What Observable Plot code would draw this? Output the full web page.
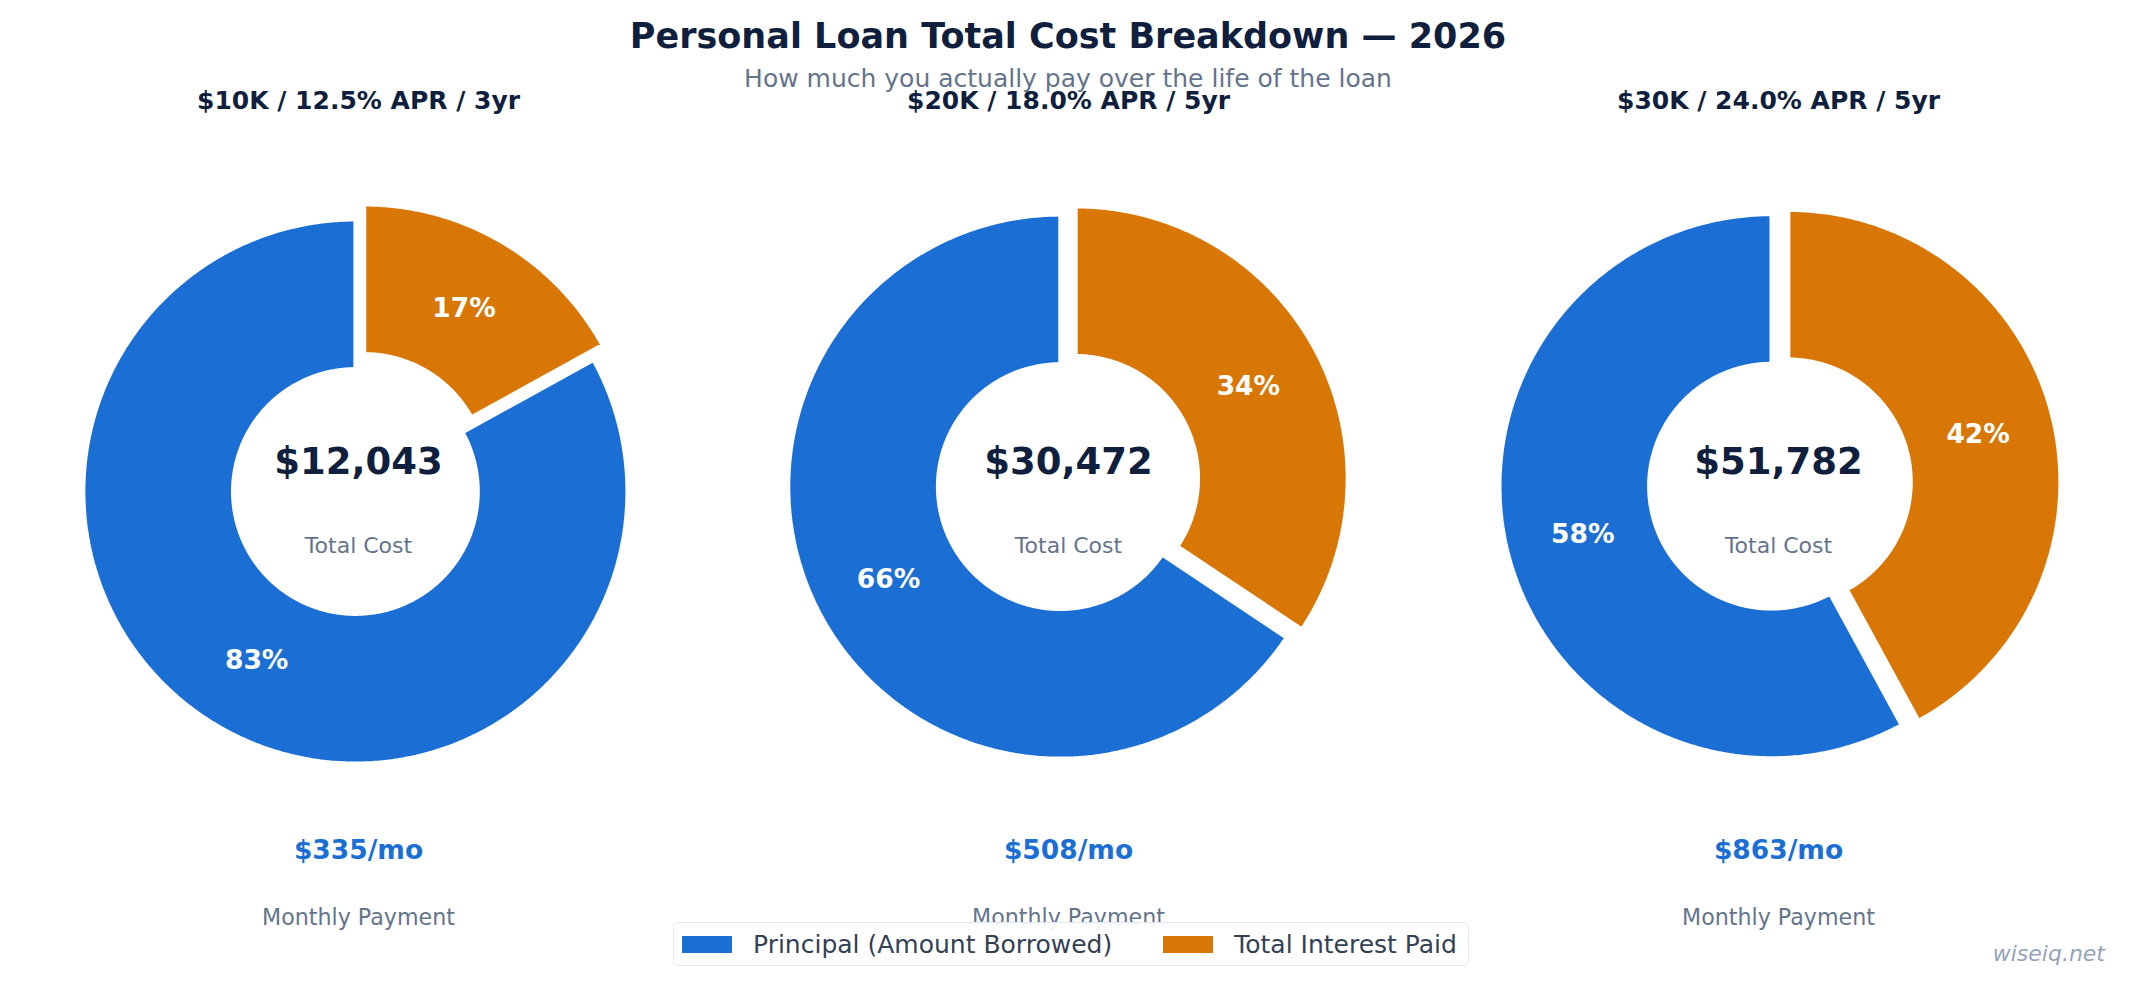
<!DOCTYPE html>
<html>
<head>
<meta charset="utf-8">
<script src="https://cdn.jsdelivr.net/npm/d3@7"></script>
<script src="https://cdn.jsdelivr.net/npm/@observablehq/plot@0.6"></script>
<style>
  body { margin: 0; background: #fff; font-family: "DejaVu Sans", sans-serif; }
  #fig { position: relative; width: 2136px; height: 986px; overflow: hidden; background: #fff; }
  .abs { position: absolute; }
  #title { left: 0; width: 2136px; top: 19px; text-align: center; font-size: 35px; line-height: 1; font-weight: bold; color: #0f1f3d; }
  #subtitle { left: 0; width: 2136px; top: 66px; text-align: center; font-size: 25px; line-height: 1; color: #64748b; }
  #legendbox { left: 673px; top: 922px; width: 796px; height: 44px; box-sizing: border-box; border: 1.5px solid #e2e8f0; border-radius: 5px; background: rgba(255,255,255,0.92); display: flex; align-items: center; padding-left: 8px; }
  .lg-swatches { font-size: 25px !important; font-family: "DejaVu Sans", sans-serif !important; color: #334155 !important; margin: 0 !important; min-height: 0 !important; }
  .lg-swatch { margin-right: 51px !important; }
  .lg-swatch:last-child { margin-right: 0 !important; }
  .lg-swatch > svg { margin-right: 21px !important; }
  #watermark { right: 31px; top: 943px; font-size: 22px; line-height: 1; font-style: italic; color: #94a3b8; }
</style>
</head>
<body>
<div id="fig">
  <div id="title" class="abs">Personal Loan Total Cost Breakdown — 2026</div>
  <div id="subtitle" class="abs">How much you actually pay over the life of the loan</div>
</div>
<script>
// ---------- data ----------
const categories = ["Principal (Amount Borrowed)", "Total Interest Paid"];
const loanLabels = ["$10K / 12.5% APR / 3yr", "$20K / 18.0% APR / 5yr", "$30K / 24.0% APR / 5yr"];
const principal = [10000, 20000, 30000];
const interest = [2043, 10472, 21782];
const totalCost = [12043, 30472, 51782];
const monthlyPayment = [335, 508, 863];
const colors = ["#1b6fd4", "#d97706"];

// ---------- layout ----------
const W = 712, H = 986, R = 272, INNER = 0.45, EXPLODE = 0.064, PCTDIST = 0.718;
const panels = [
  {left: 0,    cx: 355.4,  cy: 491.5, ax: 358},
  {left: 712,  cx: 348.3,  cy: 486.6, ax: 356},
  {left: 1424, cx: 347.5,  cy: 486.2, ax: 354}
];
const navy = "#0f1f3d", grey = "#64748b";
const fig = document.getElementById("fig");

panels.forEach((p, i) => {
  const ux = px => (px - p.cx) / R;
  const uy = py => (p.cy - py) / R;
  const total = principal[i] + interest[i];
  const slices = [
    {part: categories[1], value: interest[i]},
    {part: categories[0], value: principal[i]}
  ];
  const arcs = d3.pie().sort(null).value(d => d.value)(slices);
  const pts = [], labels = [];
  arcs.forEach(a => {
    const mid = (a.startAngle + a.endAngle) / 2;
    const off = a.data.part === categories[1] ? EXPLODE : 0;
    const ox = off * Math.sin(mid), oy = off * Math.cos(mid);
    const n = Math.max(2, Math.ceil((a.endAngle - a.startAngle) / (Math.PI / 360)));
    for (let k = 0; k <= n; k++) {
      const t = a.startAngle + (a.endAngle - a.startAngle) * k / n;
      pts.push({part: a.data.part,
        xi: ox + INNER * Math.sin(t), yi: oy + INNER * Math.cos(t),
        xo: ox + Math.sin(t), yo: oy + Math.cos(t)});
    }
    labels.push({x: ox + PCTDIST * Math.sin(mid), y: oy + PCTDIST * Math.cos(mid),
      text: Math.round(a.value / total * 100) + "%"});
  });

  const chart = Plot.plot({
    width: W, height: H, margin: 0,
    x: {type: "linear", domain: [-1, 1], range: [p.cx - R, p.cx + R], axis: null},
    y: {type: "linear", domain: [-1, 1], range: [p.cy + R, p.cy - R], axis: null},
    color: {domain: categories, range: colors},
    style: {fontFamily: "DejaVu Sans, sans-serif", background: "transparent", overflow: "visible"},
    marks: [
      Plot.area(pts, {x1: "xi", y1: "yi", x2: "xo", y2: "yo", z: "part", fill: "part",
        stroke: "white", strokeWidth: 4, strokeLinejoin: "miter"}),
      Plot.text(labels, {x: "x", y: "y", text: "text", fill: "white", fontSize: 26.5, fontWeight: "bold"}),
      Plot.text([loanLabels[i]], {x: ux(p.ax), y: uy(100), text: d => d, fill: navy, fontSize: 25, fontWeight: "bold"}),
      Plot.text([totalCost[i]], {x: ux(p.ax), y: uy(462), text: d => "$" + d3.format(",")(d), fill: navy, fontSize: 37, fontWeight: "bold"}),
      Plot.text(["Total Cost"], {x: ux(p.ax), y: uy(545), text: d => d, fill: grey, fontSize: 22}),
      Plot.text([monthlyPayment[i]], {x: ux(p.ax), y: uy(850.5), text: d => "$" + d + "/mo", fill: colors[0], fontSize: 26.5, fontWeight: "bold"}),
      Plot.text(["Monthly Payment"], {x: ux(p.ax), y: uy(917), text: d => d, fill: grey, fontSize: 22.2})
    ]
  });
  chart.style.position = "absolute";
  chart.style.left = p.left + "px";
  chart.style.top = "0px";
  fig.appendChild(chart);
});

// legend
const box = document.createElement("div");
box.id = "legendbox";
box.className = "abs";
const legend = Plot.legend({
  color: {domain: categories, range: colors},
  legend: "swatches", swatchWidth: 50, swatchHeight: 17, className: "lg"
});
box.appendChild(legend);
fig.appendChild(box);

// watermark
const wm = document.createElement("div");
wm.id = "watermark";
wm.className = "abs";
wm.textContent = "wiseiq.net";
fig.appendChild(wm);
</script>
</body>
</html>
